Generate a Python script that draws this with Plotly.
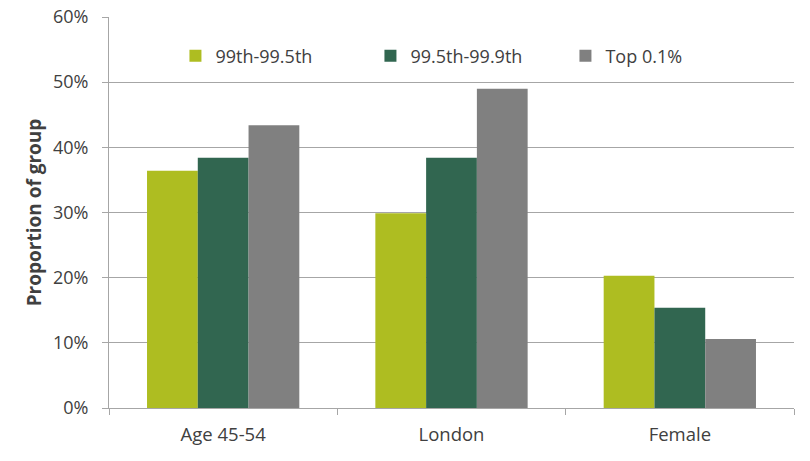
import plotly.graph_objects as go

categories = ["Age 45-54", "London", "Female"]
series_names = ["99th-99.5th", "99.5th-99.9th", "Top 0.1%"]
s1 = [36.4, 29.9, 20.3]
s2 = [38.4, 38.4, 15.4]
s3 = [43.4, 49.0, 10.6]
colors = ["#aebd21", "#316650", "#808080"]
yticks = [0, 10, 20, 30, 40, 50, 60]
yticklabels = [f"{v}%" for v in yticks]

fig = go.Figure()
for name, vals, c in zip(series_names, [s1, s2, s3], colors):
    fig.add_trace(go.Bar(x=categories, y=vals, name=name, marker=dict(color=c, line=dict(width=0))))

font_family = "Open Sans, Noto Sans, sans-serif"
fig.update_layout(
    width=810, height=461,
    margin=dict(l=109, r=16, t=17, b=53, autoexpand=False),
    paper_bgcolor="white", plot_bgcolor="white",
    barmode="group", bargap=0.333, bargroupgap=0,
    font=dict(family=font_family, size=18, color="#404040"),
    legend=dict(orientation="h", x=0.097, y=0.9, xanchor="left", yanchor="middle",
                font=dict(size=18, color="#404040"), entrywidth=150, entrywidthmode="pixels",
                bgcolor="rgba(0,0,0,0)"),
    showlegend=True,
)
fig.update_yaxes(range=[0, 60], tickvals=yticks, ticktext=yticklabels, automargin=False,
                 showgrid=True, gridcolor="#a6a6a6", gridwidth=1,
                 ticks="outside", ticklen=6, tickcolor="#a6a6a6",
                 showline=True, linecolor="#a6a6a6", linewidth=1,
                 tickfont=dict(size=18, color="#404040"), ticklabelstandoff=10,
                 title=dict(text="<b>Proportion of group</b>", font=dict(size=19, color="#404040"), standoff=6),
                 zeroline=False)
fig.update_xaxes(tickson="boundaries", ticks="outside", ticklen=6, tickcolor="#a6a6a6", automargin=False,
                 showline=True, linecolor="#a6a6a6", linewidth=1, ticklabelstandoff=10,
                 tickfont=dict(size=18.5, color="#404040"), showgrid=False)

fig.write_html("out.html")
